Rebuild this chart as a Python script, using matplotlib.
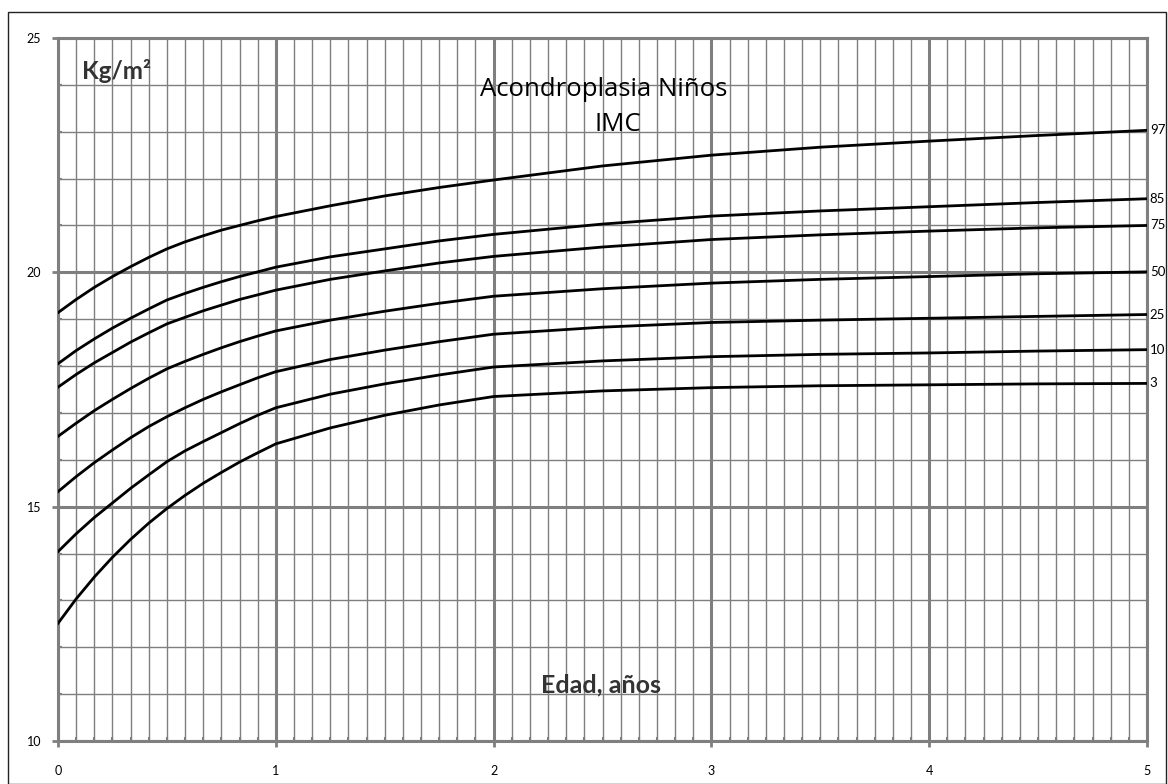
"""
Plot achondroplasia BMI percentile chart (boys, 0-5 years)
"""

import numpy as np
import matplotlib
matplotlib.use("Agg")
import matplotlib.pyplot as plt
from matplotlib.patches import Rectangle

# age in years (monthly in the first year)
ages = [0, 0.083, 0.167, 0.25, 0.333, 0.417, 0.5, 0.583, 0.667, 0.75, 0.833, 0.917, 1,
        1.25, 1.5, 1.75, 2, 2.5, 3, 3.5, 4, 4.5, 5]

# BMI percentiles, kg/m2
p97 = [19.14, 19.42, 19.68, 19.91, 20.12, 20.32, 20.50, 20.65, 20.78, 20.90, 21.00, 21.10, 21.19,
       21.42, 21.63, 21.81, 21.97, 22.27, 22.50, 22.67, 22.80, 22.92, 23.03]
p85 = [18.05, 18.33, 18.58, 18.81, 19.02, 19.22, 19.41, 19.55, 19.68, 19.80, 19.91, 20.01, 20.11,
       20.33, 20.50, 20.67, 20.81, 21.03, 21.20, 21.31, 21.40, 21.49, 21.57]
p75 = [17.55, 17.82, 18.07, 18.29, 18.51, 18.71, 18.90, 19.04, 19.18, 19.30, 19.42, 19.52, 19.62,
       19.85, 20.03, 20.20, 20.34, 20.54, 20.70, 20.80, 20.88, 20.95, 21.00]
p50 = [16.50, 16.78, 17.05, 17.29, 17.52, 17.74, 17.94, 18.10, 18.25, 18.39, 18.52, 18.64, 18.75,
       18.98, 19.17, 19.34, 19.49, 19.65, 19.77, 19.85, 19.91, 19.97, 20.01]
p25 = [15.32, 15.64, 15.94, 16.21, 16.47, 16.71, 16.92, 17.11, 17.29, 17.45, 17.60, 17.75, 17.88,
       18.14, 18.34, 18.52, 18.68, 18.83, 18.93, 18.98, 19.02, 19.06, 19.10]
p10 = [14.04, 14.42, 14.77, 15.08, 15.39, 15.68, 15.96, 16.19, 16.39, 16.58, 16.77, 16.95, 17.11,
       17.40, 17.62, 17.81, 17.98, 18.11, 18.20, 18.25, 18.28, 18.32, 18.35]
p03 = [12.51, 13.03, 13.50, 13.92, 14.30, 14.65, 14.96, 15.24, 15.50, 15.73, 15.95, 16.15, 16.34,
       16.68, 16.95, 17.17, 17.35, 17.47, 17.54, 17.58, 17.60, 17.62, 17.63]

curves = [p97, p85, p75, p50, p25, p10, p03]
curve_names = ["97", "85", "75", "50", "25", "10", "3"]

GRID = "#7f7f7f"


def plot_chart(outfile):
    fig = plt.figure(figsize=(11.68, 7.84), dpi=100)
    ax = fig.add_axes([58 / 1168, 1 - 741 / 784, (1147 - 58) / 1168, (741 - 38) / 784])

    # frame round the whole chart
    fig.patches.append(Rectangle((8 / 1168, 0.5 / 784), 1158 / 1168, 1 - 12.5 / 784,
                                 transform=fig.transFigure, fill=False,
                                 edgecolor="#222222", linewidth=1.0))

    ax.set_xlim(0, 5)
    ax.set_ylim(10, 25)
    ax.set_xticks(np.arange(0, 6, 1))
    ax.set_xticks(np.arange(0, 5, 1 / 12), minor=True)
    ax.set_yticks([10, 15, 20, 25])
    ax.set_yticks(np.arange(10, 26, 1), minor=True)

    ax.grid(which="minor", color=GRID, linewidth=1.0)
    ax.grid(which="major", color=GRID, linewidth=2.2)
    ax.set_axisbelow(True)
    for side in ax.spines.values():
        side.set_color(GRID)
        side.set_linewidth(2.2)

    ax.tick_params(which="major", direction="out", length=4, width=2, color=GRID,
                   labelsize=9, pad=8)
    ax.tick_params(axis="x", which="major", pad=13)
    ax.tick_params(which="minor", direction="in", length=3, width=1.5, color=GRID)
    for lab in ax.get_xticklabels() + ax.get_yticklabels():
        lab.set_fontfamily("Lato")

    for vals, name in zip(curves, curve_names):
        ax.plot(ages, vals, color="black", linewidth=2.0, solid_joinstyle="round", zorder=3)
        ax.annotate(name, xy=(ages[-1], vals[-1]), xytext=(2, 0),
                    textcoords="offset points", va="center", ha="left",
                    fontsize=9.5, family="Lato", annotation_clip=False)

    ax.text(2.507, 23.91, "Acondroplasia Niños", ha="center", va="center",
            fontsize=18.5, family="Open Sans")
    ax.text(2.569, 23.16, "IMC", ha="center", va="center",
            fontsize=18.5, family="Open Sans")
    ax.text(0.11, 24.3, "Kg/m²", ha="left", va="center", fontsize=17.5,
            fontweight="bold", family="Lato", color="#333333")
    ax.text(2.493, 11.2, "Edad, años", ha="center", va="center", fontsize=18,
            fontweight="bold", family="Lato", color="#333333")

    fig.savefig(outfile, dpi=100)


if __name__ == "__main__":
    plot_chart("out.png")
